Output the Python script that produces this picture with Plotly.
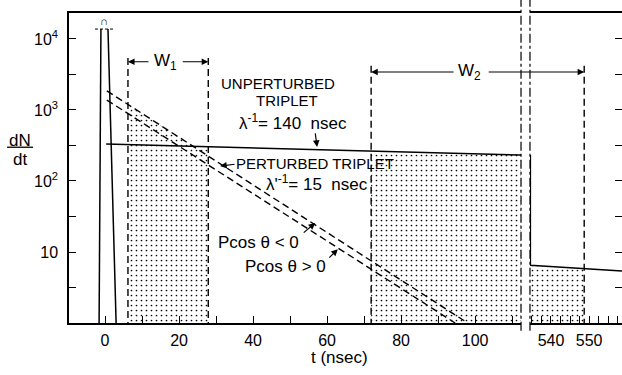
import numpy as np
import plotly.graph_objects as go

# ---------------- data ----------------
# prompt peak (truncated at top)
peak_left_t = [-1.6, -1.1]
peak_left_y = [1.0, 13800]
peak_right_t = [0.8, 3.0]
peak_right_y = [13800, 1.0]
peak_cap_t = [-2.7, 2.2]
peak_cap_y = [13800, 13800]

# unperturbed triplet (solid), left and right (after break) segments
unp_t = [0.3, 112.4]
unp_y = [331, 232]
unp2_t = [534.6, 534.6, 558.6]
unp2_y = [232, 6.5, 5.4]

# perturbed triplet (dashed), P cos(theta) < 0 and > 0
pneg_t = [0.5, 98.0]
pneg_y = [1860, 1.0]
ppos_t = [0.5, 94.6]
ppos_y = [1380, 1.0]

# windows
W1 = [6.2, 27.9]
W2 = [71.9, 548.7]
w1_top, w2_top = 5400, 4200
w1_arrow, w2_arrow = 4780, 3430

x_ticks = [0, 20, 40, 60, 80, 100]
x2_ticks = [540, 550]
y_tickvals = [10 ** (k / 2) for k in range(1, 9)]
y_ticktext = ["" if k % 2 else ("10" if k == 2 else "10<sup>%d</sup>" % (k // 2)) for k in range(1, 9)]

FONT = "Liberation Sans, Arial, sans-serif"
BLACK = "black"

def logline(ts, ys, t):
    return 10 ** np.interp(t, ts, np.log10(ys))

fig = go.Figure()

pattern = dict(shape=".", size=5, solidity=0.09, fgcolor=BLACK, bgcolor="white", fgopacity=1)

# stippled window W1: under max(dashed upper, solid)
tw1 = np.linspace(W1[0], W1[1], 60)
top1 = np.maximum(logline(pneg_t, pneg_y, tw1), logline(unp_t, unp_y, tw1))
fig.add_trace(go.Scatter(x=np.r_[W1[0], tw1, W1[1]], y=np.r_[1.0, top1, 1.0], fill="toself",
                         fillcolor="rgba(0,0,0,0)", fillpattern=pattern, line=dict(width=0),
                         mode="lines", hoverinfo="skip", xaxis="x", yaxis="y"))
# stippled W2 left part
tw2 = np.linspace(W2[0], unp_t[1], 30)
top2 = logline(unp_t, unp_y, tw2)
fig.add_trace(go.Scatter(x=np.r_[W2[0], tw2, unp_t[1]], y=np.r_[1.0, top2, 1.0], fill="toself",
                         fillcolor="rgba(0,0,0,0)", fillpattern=pattern, line=dict(width=0),
                         mode="lines", hoverinfo="skip", xaxis="x", yaxis="y"))
# stippled W2 right part
tw3 = np.linspace(unp2_t[1], W2[1], 20)
top3 = logline(unp2_t[1:], unp2_y[1:], tw3)
fig.add_trace(go.Scatter(x=np.r_[unp2_t[1], tw3, W2[1]], y=np.r_[1.0, top3, 1.0], fill="toself",
                         fillcolor="rgba(0,0,0,0)", fillpattern=pattern, line=dict(width=0),
                         mode="lines", hoverinfo="skip", xaxis="x2", yaxis="y2"))

# peak
for ts, ys in [(peak_left_t, peak_left_y), (peak_right_t, peak_right_y)]:
    fig.add_trace(go.Scatter(x=ts, y=ys, mode="lines", line=dict(color=BLACK, width=1.5),
                             xaxis="x", yaxis="y"))
fig.add_trace(go.Scatter(x=peak_cap_t, y=peak_cap_y, mode="lines", line=dict(color=BLACK, width=1, dash="3px,2px"),
                         xaxis="x", yaxis="y", cliponaxis=False))
# solid lines
fig.add_trace(go.Scatter(x=unp_t, y=unp_y, mode="lines", line=dict(color=BLACK, width=1.5), xaxis="x", yaxis="y"))
fig.add_trace(go.Scatter(x=unp2_t, y=unp2_y, mode="lines", line=dict(color=BLACK, width=1.5), xaxis="x2", yaxis="y2"))
# dashed perturbed lines
for ts, ys in [(pneg_t, pneg_y), (ppos_t, ppos_y)]:
    fig.add_trace(go.Scatter(x=ts, y=ys, mode="lines", line=dict(color=BLACK, width=1.4, dash="7px,4px"),
                             xaxis="x", yaxis="y"))
# window boundary lines
for xv, top, ax in [(W1[0], w1_top, "x"), (W1[1], w1_top, "x"), (W2[0], w2_top, "x"), (W2[1], w2_top, "x2")]:
    fig.add_trace(go.Scatter(x=[xv, xv], y=[top, 1.0], mode="lines",
                             line=dict(color=BLACK, width=1.4, dash="7px,4px"),
                             xaxis=ax, yaxis="y" if ax == "x" else "y2"))

ann = []
def txt(x, y, s, size=15, xref="x", yref="y", **kw):
    d = dict(x=x, y=y, text=s, showarrow=False, xref=xref, yref=yref,
             xanchor="center", yanchor="middle",
             font=dict(family=FONT, size=size, color=BLACK))
    d.update(kw)
    ann.append(d)

def arrow(x, y, ax, ay, xref="x", yref="y", head=2):
    ann.append(dict(x=x, y=y, ax=ax, ay=ay, xref=xref, yref=yref, text="", showarrow=True,
                    arrowhead=head, arrowsize=1.1, arrowwidth=1.2, arrowcolor=BLACK))

# windows labels
txt(16.3, np.log10(w1_arrow), "W<sub>1</sub>", size=17)
arrow(W1[0], np.log10(w1_arrow), 22, 0)
arrow(W1[1], np.log10(w1_arrow), -27, 0)
txt(98.6, np.log10(w2_arrow), "W<sub>2</sub>", size=17)
arrow(W2[0], np.log10(w2_arrow), 84, 0)
arrow(W2[1], np.log10(w2_arrow), -97, 0, xref="x2", yref="y2")

# curve labels
txt(46.8, 3.38, "UNPERTURBED", size=15)
txt(49.2, 3.14, "TRIPLET", size=15)
txt(50.8, 2.83, "λ<sup>-1</sup>= 140  nsec", size=17)
arrow(57.3, 2.48, -2, -15)
txt(56.8, 2.25, "PERTURBED TRIPLET", size=15)
arrow(31.1, 2.21, 16, -2)
txt(57.3, 1.97, "λ'<sup>-1</sup>= 15  nsec", size=17)
txt(41.4, 1.14, "Pcos θ < 0", size=17)
arrow(56.8, 1.41, -13, 11)
txt(48.8, 0.79, "Pcos θ > 0", size=17)
arrow(62.9, 1.04, -10, 10)

# peak cap mark
txt(-0.2, 4.25, "∩", size=11)

# y title dN/dt and x title
txt(-0.088, 0.590, "dN", size=17, xref="paper", yref="paper")
txt(-0.088, 0.526, "dt", size=17, xref="paper", yref="paper")
txt(0.49, -0.11, "t (nsec)", size=17, xref="paper", yref="paper")

shapes = [
    dict(type="line", xref="paper", yref="paper", x0=-0.112, x1=-0.065, y0=0.567, y1=0.567,
         line=dict(color=BLACK, width=1.3)),
    dict(type="line", xref="paper", yref="paper", x0=0.8174, x1=0.8174, y0=-0.025, y1=1.045,
         line=dict(color=BLACK, width=1.2, dash="dashdot")),
    dict(type="line", xref="paper", yref="paper", x0=0.8336, x1=0.8336, y0=-0.025, y1=1.045,
         line=dict(color=BLACK, width=1.2, dash="dashdot")),
]

axis_common = dict(showline=True, linecolor=BLACK, linewidth=1.5, ticks="inside", ticklen=7,
                   tickcolor=BLACK, tickwidth=1.2, showgrid=False, zeroline=False,
                   tickfont=dict(family=FONT, size=16, color=BLACK))

fig.update_layout(
    width=622, height=375,
    margin=dict(l=69, r=0, t=13, b=52),
    paper_bgcolor="white", plot_bgcolor="white",
    showlegend=False,
    xaxis=dict(domain=[0, 0.8174], range=[-9.73, 112.4], tickvals=x_ticks, mirror=True,
               minor=dict(dtick=10, ticks="inside", ticklen=7, tickcolor=BLACK, tickwidth=1.2),
               anchor="y", ticklabelstandoff=2, **axis_common),
    xaxis2=dict(domain=[0.8336, 1], range=[534.5, 558.6], tickvals=x2_ticks, mirror=True,
                minor=dict(dtick=2.5, ticks="inside", ticklen=7, tickcolor=BLACK, tickwidth=1.2),
                anchor="y2", ticklabelstandoff=2, **axis_common),
    yaxis=dict(type="log", range=[0, 4.366], tickvals=y_tickvals, ticktext=y_ticktext,
               anchor="x", domain=[0, 1], ticklabelstandoff=6, **axis_common),
    yaxis2=dict(type="log", matches="y", tickvals=y_tickvals, ticktext=y_ticktext, anchor="x2",
                side="right", domain=[0, 1], showline=False, ticks="inside", ticklen=7,
                tickcolor=BLACK, tickwidth=1.2, showticklabels=False, showgrid=False, zeroline=False),
    annotations=ann,
    shapes=shapes,
)

fig.write_html("out.html")
